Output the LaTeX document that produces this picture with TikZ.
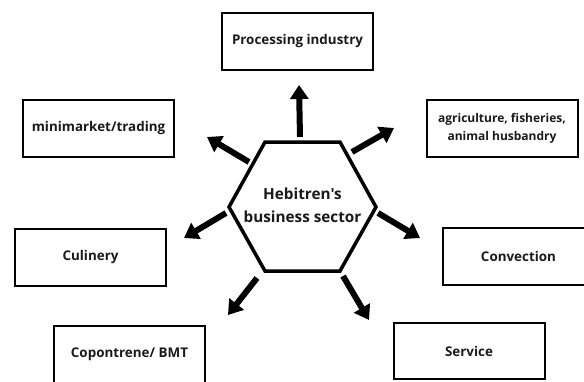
\documentclass[tikz,border=0pt]{standalone}
\usepackage{fontspec}
\setmainfont{Open Sans}[Ligatures=TeXOff]
\usetikzlibrary{arrows.meta}
\definecolor{txt}{HTML}{1A1A1A}
\tikzset{
  box/.style={draw=black, line width=2pt, minimum width=151pt, minimum height=57pt, inner sep=0pt, font=\fontsize{13.4}{18}\selectfont\bfseries, text=txt, align=center},
  hexline/.style={draw=black, line width=3.5pt, line join=miter},
  hextext/.style={inner sep=0pt, font=\fontsize{15.3}{23.5}\selectfont\bfseries, text=txt, align=center},
  bigarrow/.style={line width=6pt, -{Triangle[width=18pt,length=14pt]}}
}
\begin{document}
\begin{tikzpicture}[x=1pt,y=-1pt]
\useasboundingbox (0,0) rectangle (584,381);
\begin{scope}
\clip (0,0) rectangle (584,381);
\coordinate (v1) at (229,207); \coordinate (v2) at (265,142);
\coordinate (v3) at (340,142); \coordinate (v4) at (376,207);
\coordinate (v5) at (340,271); \coordinate (v6) at (265,271);
\draw[hexline] (v1) -- (v2) -- (v3) -- (v4) -- (v5) -- (v6) -- cycle;
\node[hextext] (hex) at (302.5,205.5) {Hebitren's\\business sector};
\node[box] (proc) at (297.5,41) {Processing industry};
\node[box] (mini) at (98.5,128.5) {minimarket/trading};
\node[box, font=\fontsize{12}{17.5}\selectfont\bfseries] (agri) at (502,128.5) {agriculture, fisheries,\\animal husbandry};
\node[box] (cul) at (90.5,257) {Culinery};
\node[box] (conv) at (518.5,256.5) {Convection};
\node[box] (copo) at (129.5,354) {Copontrene/ BMT};
\node[box, minimum height=56pt] (serv) at (469,351) {Service};

\coordinate (a1) at (300,137); \coordinate (b1) at (299,85);
\coordinate (a2) at (249,162); \coordinate (b2) at (207,137);
\coordinate (a3) at (352,152); \coordinate (b3) at (394,128);
\coordinate (a4) at (378,213); \coordinate (b4) at (420,238);
\coordinate (a5) at (226,213); \coordinate (b5) at (184,238);
\coordinate (a6) at (257,278); \coordinate (b6) at (228,315);
\coordinate (a7) at (343,276); \coordinate (b7) at (369,320);
\foreach \i in {1,...,7} \draw[bigarrow] (a\i) -- (b\i);
\end{scope}
\end{tikzpicture}
\end{document}
